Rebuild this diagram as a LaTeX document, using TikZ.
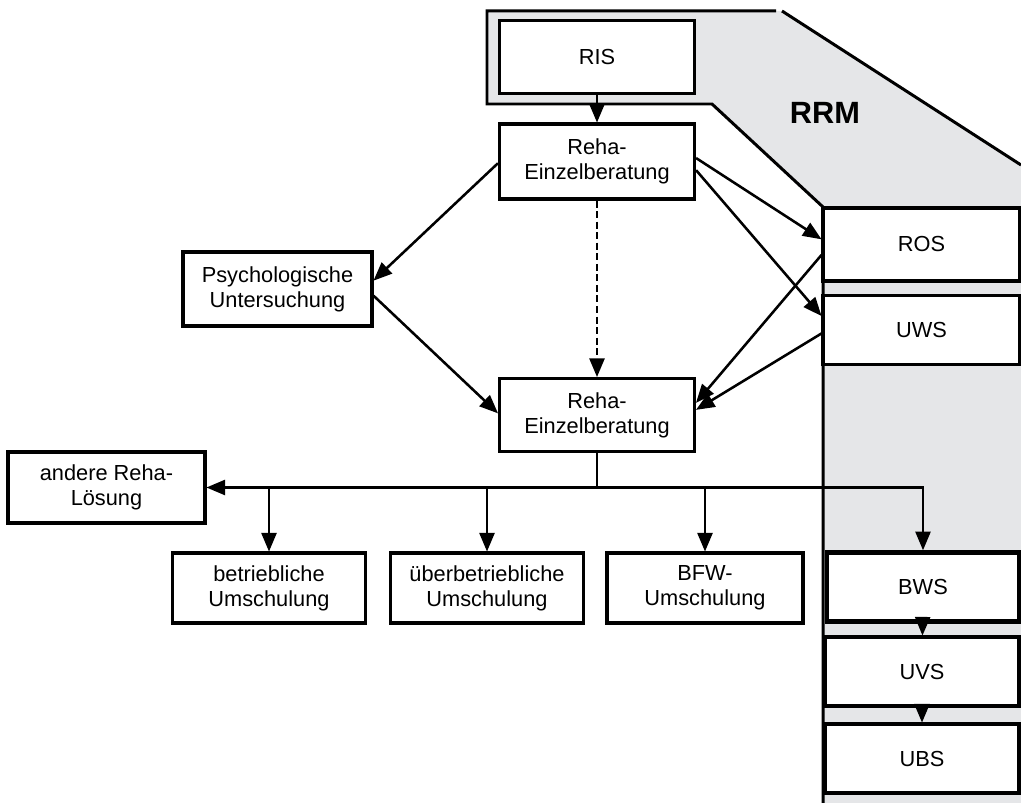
\documentclass[tikz,border=0pt]{standalone}
\usepackage{fontspec}
\setmainfont{Liberation Sans}
\usetikzlibrary{arrows}
\definecolor{rrmgrau}{RGB}{229,230,232}

\begin{document}
\begin{tikzpicture}[x=0.02cm, y=-0.02cm]
% Stil der Knoten
\tikzstyle{kasten} = [rectangle, draw, fill=white, line width=1.8pt, align=center, inner sep=0pt, font=\fontsize{12.4}{14.3}\selectfont, minimum width=3.9cm, minimum height=1.46cm]
\tikzstyle{stelle} = [kasten, minimum width=3.94cm, minimum height=1.38cm]
\tikzstyle{ziel} = [kasten, minimum width=3.86cm, minimum height=1.40cm]
% Stil der Pfeile
\tikzstyle{pfeil} = [->, >=triangle 45, line width=1.45pt]
\tikzstyle{rand} = [line width=1.7pt]

\useasboundingbox (0,0) rectangle (1021,803);

%% RRM-Bereich
\fill[rrmgrau] (487,11) -- (782,11) -- (1021,165) -- (1021,803) -- (823,803) -- (823,207) -- (712,104) -- (487,104) -- cycle;
\draw[rand] (776,11) -- (487,11) -- (487,104) -- (712,104) -- (823,207) -- (823,803);
\draw[rand] (782,11) -- (1021,165);
\node[font=\fontsize{17.5}{20}\selectfont\bfseries] (rrm) at (825,113) {RRM};

%% Platzierung der Knoten
\node[kasten] (ris) at (597,57) {RIS};
\node[kasten, minimum height=1.5cm] (reha1) at (597,161.5) {Reha-\\Einzelberatung};
\node[kasten, minimum width=3.78cm, minimum height=1.48cm] (psych) at (277.5,289) {Psychologische\\Untersuchung};
\node[kasten] (reha2) at (597,415) {Reha-\\Einzelberatung};
\node[kasten, minimum width=3.94cm, minimum height=1.42cm] (andere) at (106.5,487.5) {andere Reha-\\Lösung};
\node[ziel] (betrieb) at (269,588) {betriebliche\\Umschulung};
\node[ziel] (ueber) at (487,588) {überbetriebliche\\Umschulung};
\node[ziel, minimum width=3.92cm] (bfw) at (705,588) {BFW-\\Umschulung};
\node[stelle, minimum height=1.46cm] (ros) at (921.5,244.5) {ROS};
\node[stelle] (uws) at (921.5,330) {UWS};
\node[stelle, minimum width=3.84cm, line width=2.7pt] (bws) at (923,587) {BWS};
\node[stelle, minimum width=3.88cm] (uvs) at (922,671.5) {UVS};
\node[stelle, minimum width=3.88cm] (ubs) at (922,758.5) {UBS};
\coordinate (knoten) at (597,488);

%% Platzierung der Pfeile
\draw[pfeil] (ris) -- (reha1);
\draw[pfeil, dash pattern=on 4pt off 2pt] (reha1) -- (reha2);
\draw[pfeil] (reha1.181) -- (psych.5);
\draw[pfeil] (psych.-4) -- (reha2.179);
\draw[pfeil] (reha1.2) -- (ros.177);
\draw[pfeil] (reha1.-5) -- (uws.172);
\draw[pfeil] (ros.186) -- (reha2.7);
\draw[pfeil] (uws.182) -- (reha2.3);
\draw[line width=1.45pt] (reha2) -- (knoten);
\draw[pfeil, <->] (andere) -| (bws);
\foreach \ziel in {betrieb, ueber, bfw}
  \draw[pfeil] (knoten -| \ziel) -- (\ziel);
\draw[pfeil] (bws) -- (uvs);
\draw[pfeil] (uvs) -- (ubs);
\end{tikzpicture}
\end{document}
